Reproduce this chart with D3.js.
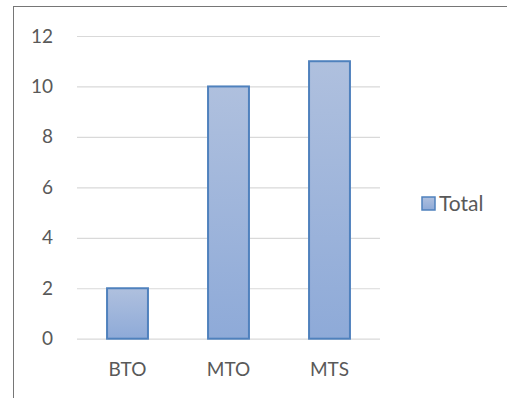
<!DOCTYPE html>
<html>
<head>
<meta charset="utf-8">
<script src="https://cdn.jsdelivr.net/npm/d3@7"></script>
<style>
  html, body { margin: 0; padding: 0; background: #fff; }
  svg { display: block; }
  text { font-family: "Lato", "Liberation Sans", sans-serif; fill: #595959; }
</style>
</head>
<body>
<svg id="chart" width="507" height="398"></svg>
<script>
const categories = ["BTO", "MTO", "MTS"];
const totals = [2, 10, 11];
const yTicks = [0, 2, 4, 6, 8, 10, 12];
const seriesName = "Total";

const svg = d3.select("#chart");
const W = 507, H = 398;
const plot = { left: 77, right: 380, top: 36, bottom: 338.7 };

// chart border
svg.append("rect")
  .attr("x", 13.5).attr("y", 6.5)
  .attr("width", W).attr("height", H)
  .attr("fill", "none").attr("stroke", "#767676").attr("stroke-width", 1);

const x = d3.scaleBand().domain(categories)
  .range([plot.left, plot.right]).paddingInner(0.595).paddingOuter(0.2975);
const y = d3.scaleLinear().domain([0, 12]).range([plot.bottom, plot.top]);

const defs = svg.append("defs");
const grad = defs.append("linearGradient").attr("id", "barGrad")
  .attr("x1", 0).attr("y1", 0).attr("x2", 0).attr("y2", 1);
grad.append("stop").attr("offset", "0%").attr("stop-color", "#afc0de");
grad.append("stop").attr("offset", "100%").attr("stop-color", "#8eaad8");

// gridlines
const gridAxis = d3.axisLeft(y).tickValues(yTicks)
  .tickSize(-(plot.right - plot.left)).tickFormat("");
const g = svg.append("g").attr("transform", `translate(${plot.left},0)`).call(gridAxis);
g.select(".domain").remove();
g.selectAll(".tick line").attr("stroke", "#d9d9d9").attr("stroke-width", 1.2);

// y labels
const yAxis = d3.axisLeft(y).tickValues(yTicks).tickSize(0).tickPadding(0);
const ya = svg.append("g").attr("transform", "translate(53,0)").call(yAxis);
ya.select(".domain").remove();
ya.selectAll("text").attr("font-size", 19).style("font-family", null).attr("fill", "#595959");

// bars
svg.append("g").selectAll("rect").data(categories).join("rect")
  .attr("x", d => x(d))
  .attr("y", (d, i) => y(totals[i]))
  .attr("width", x.bandwidth())
  .attr("height", (d, i) => y(0) - y(totals[i]))
  .attr("fill", "url(#barGrad)")
  .attr("stroke", "#4f81bd").attr("stroke-width", 2);

// x labels
const xAxis = d3.axisBottom(x).tickSize(0).tickPadding(0);
const xa = svg.append("g").attr("transform", `translate(0,${plot.bottom + 24})`).call(xAxis);
xa.select(".domain").remove();
xa.selectAll("text").attr("font-size", 19).style("font-family", null).attr("fill", "#595959");

// legend
const lg = svg.append("g").attr("transform", "translate(422,197)");
lg.append("rect").attr("x", 0).attr("y", 0).attr("width", 13).attr("height", 13)
  .attr("fill", "url(#barGrad)").attr("stroke", "#4f81bd").attr("stroke-width", 1.5);
lg.append("text").attr("x", 17).attr("y", 6.5).attr("dy", "0.35em")
  .attr("font-size", 21).text(seriesName);
</script>
</body>
</html>
